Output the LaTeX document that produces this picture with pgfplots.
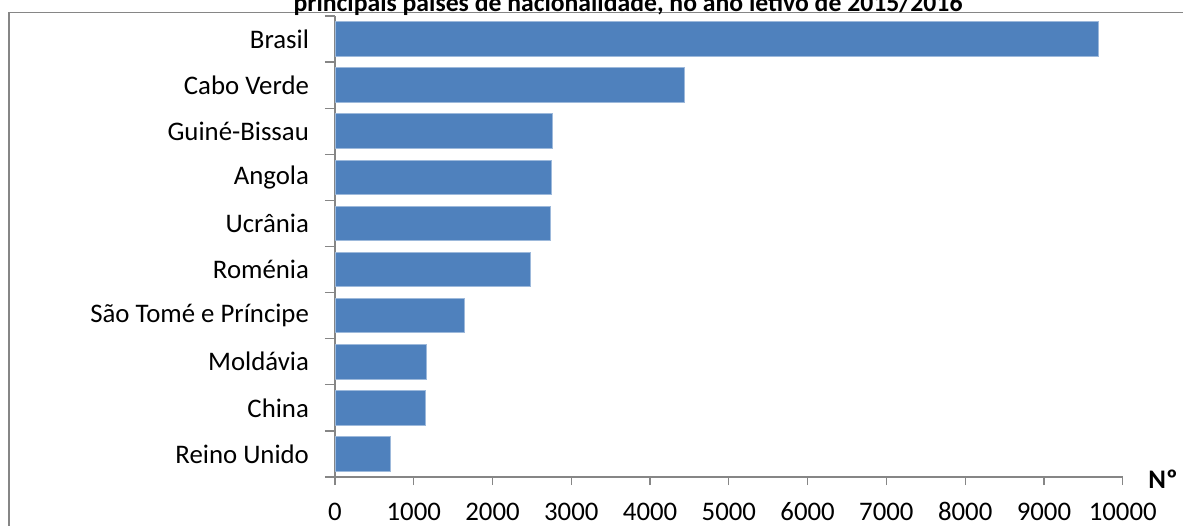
\documentclass[border=0pt]{standalone}
\usepackage{pgfplots}
\pgfplotsset{compat=1.18}
\usepackage{fontspec}
\setmainfont{Carlito}
\definecolor{barblue}{HTML}{4F81BD}
\definecolor{baredge}{HTML}{9DB9DB}
\definecolor{axisgray}{HTML}{868686}

\begin{document}
\begin{tikzpicture}
\useasboundingbox (0,0) rectangle (591.5pt,262.5pt);
\clip (0,0) rectangle (591.5pt,262.5pt);
\begin{scope}[x=0.5pt,y=0.5pt]
% chart frame
\draw[axisgray, line width=0.6pt] (9,512.5) -- (9,-20) (9,512.5) -- (1220,512.5);
% title
\node[font=\fontsize{12.85}{15.4}\selectfont\bfseries, anchor=base, inner sep=0pt]
  at (628,513.5) {principais países de nacionalidade, no ano letivo de 2015/2016};
\node[font=\fontsize{13.4}{16}\selectfont\bfseries, anchor=base, inner sep=0pt] at (1163,37) {Nº};
\end{scope}
\begin{axis}[
  at={(167.5pt,24pt)}, anchor=south west,
  scale only axis, width=393.85pt, height=230.5pt,
  xmin=0, xmax=10000, ymin=-0.5, ymax=9.5,
  enlargelimits=false,
  xbar, bar width=0.75,
  axis x line*=bottom, axis y line*=left,
  axis line style={axisgray, line width=0.6pt},
  tick align=outside,
  xtick={0,1000,...,10000},
  scaled x ticks=false,
  major x tick style={axisgray, line width=0.6pt},
  major tick length=4pt,
  minor tick length=5pt,
  ytick={0,...,9},
  yticklabels={Reino Unido, China, Moldávia, São Tomé e Príncipe, Roménia, Ucrânia, Angola, Guiné-Bissau, Cabo Verde, Brasil},
  major y tick style={draw=none},
  minor ytick={-0.5,0.5,...,9.5},
  minor y tick style={axisgray, line width=0.6pt},
  /pgf/number format/assume math mode=true,
  /pgf/number format/1000 sep={},
  ticklabel style={font=\fontsize{13.4}{16}\selectfont},
  yticklabel style={anchor=east, xshift=-5.5pt},
  xticklabel style={anchor=base, inner sep=0pt, yshift=-17.5pt},
]
\addplot[fill=barblue, draw=baredge, line width=0.5pt] coordinates {
  (700,0) (1147,1) (1159,2) (1642,3) (2476,4)
  (2738,5) (2746,6) (2763,7) (4434,8) (9690,9)
};
\end{axis}
\end{tikzpicture}
\end{document}
